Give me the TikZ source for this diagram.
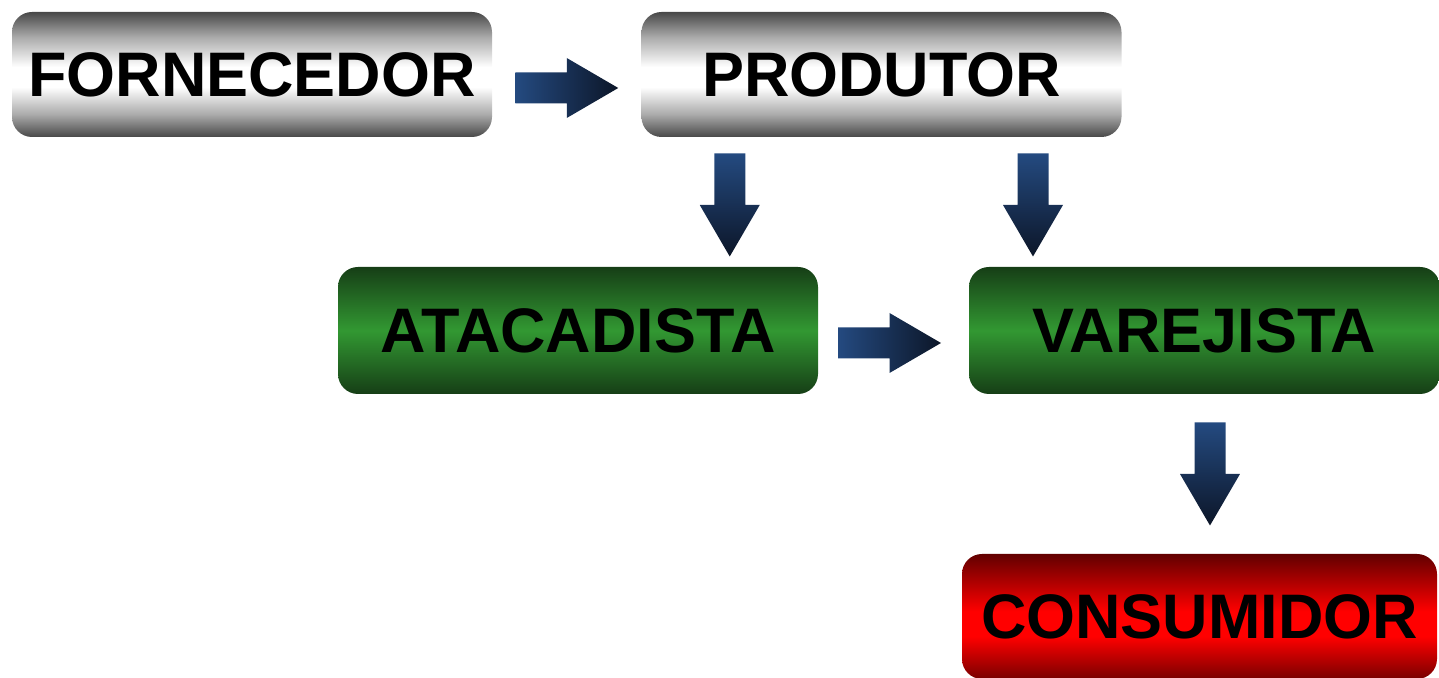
\documentclass[tikz,border=0pt]{standalone}
\usepackage{fontspec}
\setmainfont{Liberation Sans}
\usepackage{xcolor}
\usepackage{tikz}
\usetikzlibrary{calc}

\definecolor{silverdark}{RGB}{72,72,72}
\definecolor{silvermid}{RGB}{170,170,170}
\definecolor{greendark}{RGB}{22,62,22}
\definecolor{greenmid}{RGB}{50,152,50}
\definecolor{reddark}{RGB}{98,0,0}
\definecolor{redlow}{RGB}{120,0,0}
\definecolor{redmid}{RGB}{255,0,0}
\definecolor{flowlight}{RGB}{36,74,128}
\definecolor{flowdark}{RGB}{12,22,40}

\pgfdeclareverticalshading{silverbox}{100bp}{color(0bp)=(silverdark); color(25bp)=(silverdark); color(34bp)=(silvermid); color(45bp)=(white); color(53bp)=(white); color(65bp)=(silvermid); color(75bp)=(silverdark); color(100bp)=(silverdark)}
\pgfdeclareverticalshading{greenbox}{100bp}{color(0bp)=(greendark); color(25bp)=(greendark); color(50bp)=(greenmid); color(75bp)=(greendark); color(100bp)=(greendark)}
\pgfdeclareverticalshading{redbox}{100bp}{color(0bp)=(redlow); color(25bp)=(redlow); color(42bp)=(redmid); color(52bp)=(redmid); color(75bp)=(reddark); color(100bp)=(reddark)}

\tikzset{
	stage/.style={rounded corners=0.2cm, minimum height=1.25cm, inner sep=0pt, shade, text=black,
		font=\fontsize{17.9}{20}\selectfont\bfseries},
	supply/.style={stage, shading=silverbox, minimum width=4.8cm},
	trade/.style={stage, shading=greenbox, minimum height=1.27cm},
	buyer/.style={stage, shading=redbox},
	rblock/.pic={\shade[left color=flowlight, right color=flowdark] (-0.515,0.155) -- (0,0.155) -- (0,0.30) -- (0.515,0) -- (0,-0.30) -- (0,-0.155) -- (-0.515,-0.155) -- cycle;},
	dblock/.pic={\shade[top color=flowlight, bottom color=flowdark] (-0.155,0.515) -- (0.155,0.515) -- (0.155,0) -- (0.30,0) -- (0,-0.515) -- (-0.30,0) -- (-0.155,0) -- cycle;}
}

\begin{document}
\begin{tikzpicture}
			\useasboundingbox (0,0) rectangle (14.39,6.78);
			\clip (0,0) rectangle (14.39,6.78);

			\node[supply] (forn) at (2.52,6.035) {FORNECEDOR};
			\node[supply] (prod) at (8.815,6.035) {PRODUTOR};
			\node[trade, minimum width=4.8cm] (ataca) at (5.78,3.475) {ATACADISTA};
			\node[trade, minimum width=4.71cm] (vare) at (12.045,3.475) {VAREJISTA};
			\node[buyer, minimum width=4.75cm] (cons) at (11.995,0.615) {CONSUMIDOR};

			%% arrows
			\pic (a1) at ($(forn.east)!0.5!(prod.west)+(0,-0.135)$) {rblock};
			\pic (a2) at ($(prod.south)!0.5!(ataca.north)+(0,-0.03)$) {dblock};
			\pic (a3) at ($(prod.south)!0.5!(vare.north)+(-0.1,-0.03)$) {dblock};
			\pic (a4) at ($(ataca.east)!0.5!(vare.west)+(-0.04,-0.125)$) {rblock};
			\pic (a5) at ($(vare.south)!0.5!(cons.north)+(0.08,0)$) {dblock};
		\end{tikzpicture}
\end{document}
